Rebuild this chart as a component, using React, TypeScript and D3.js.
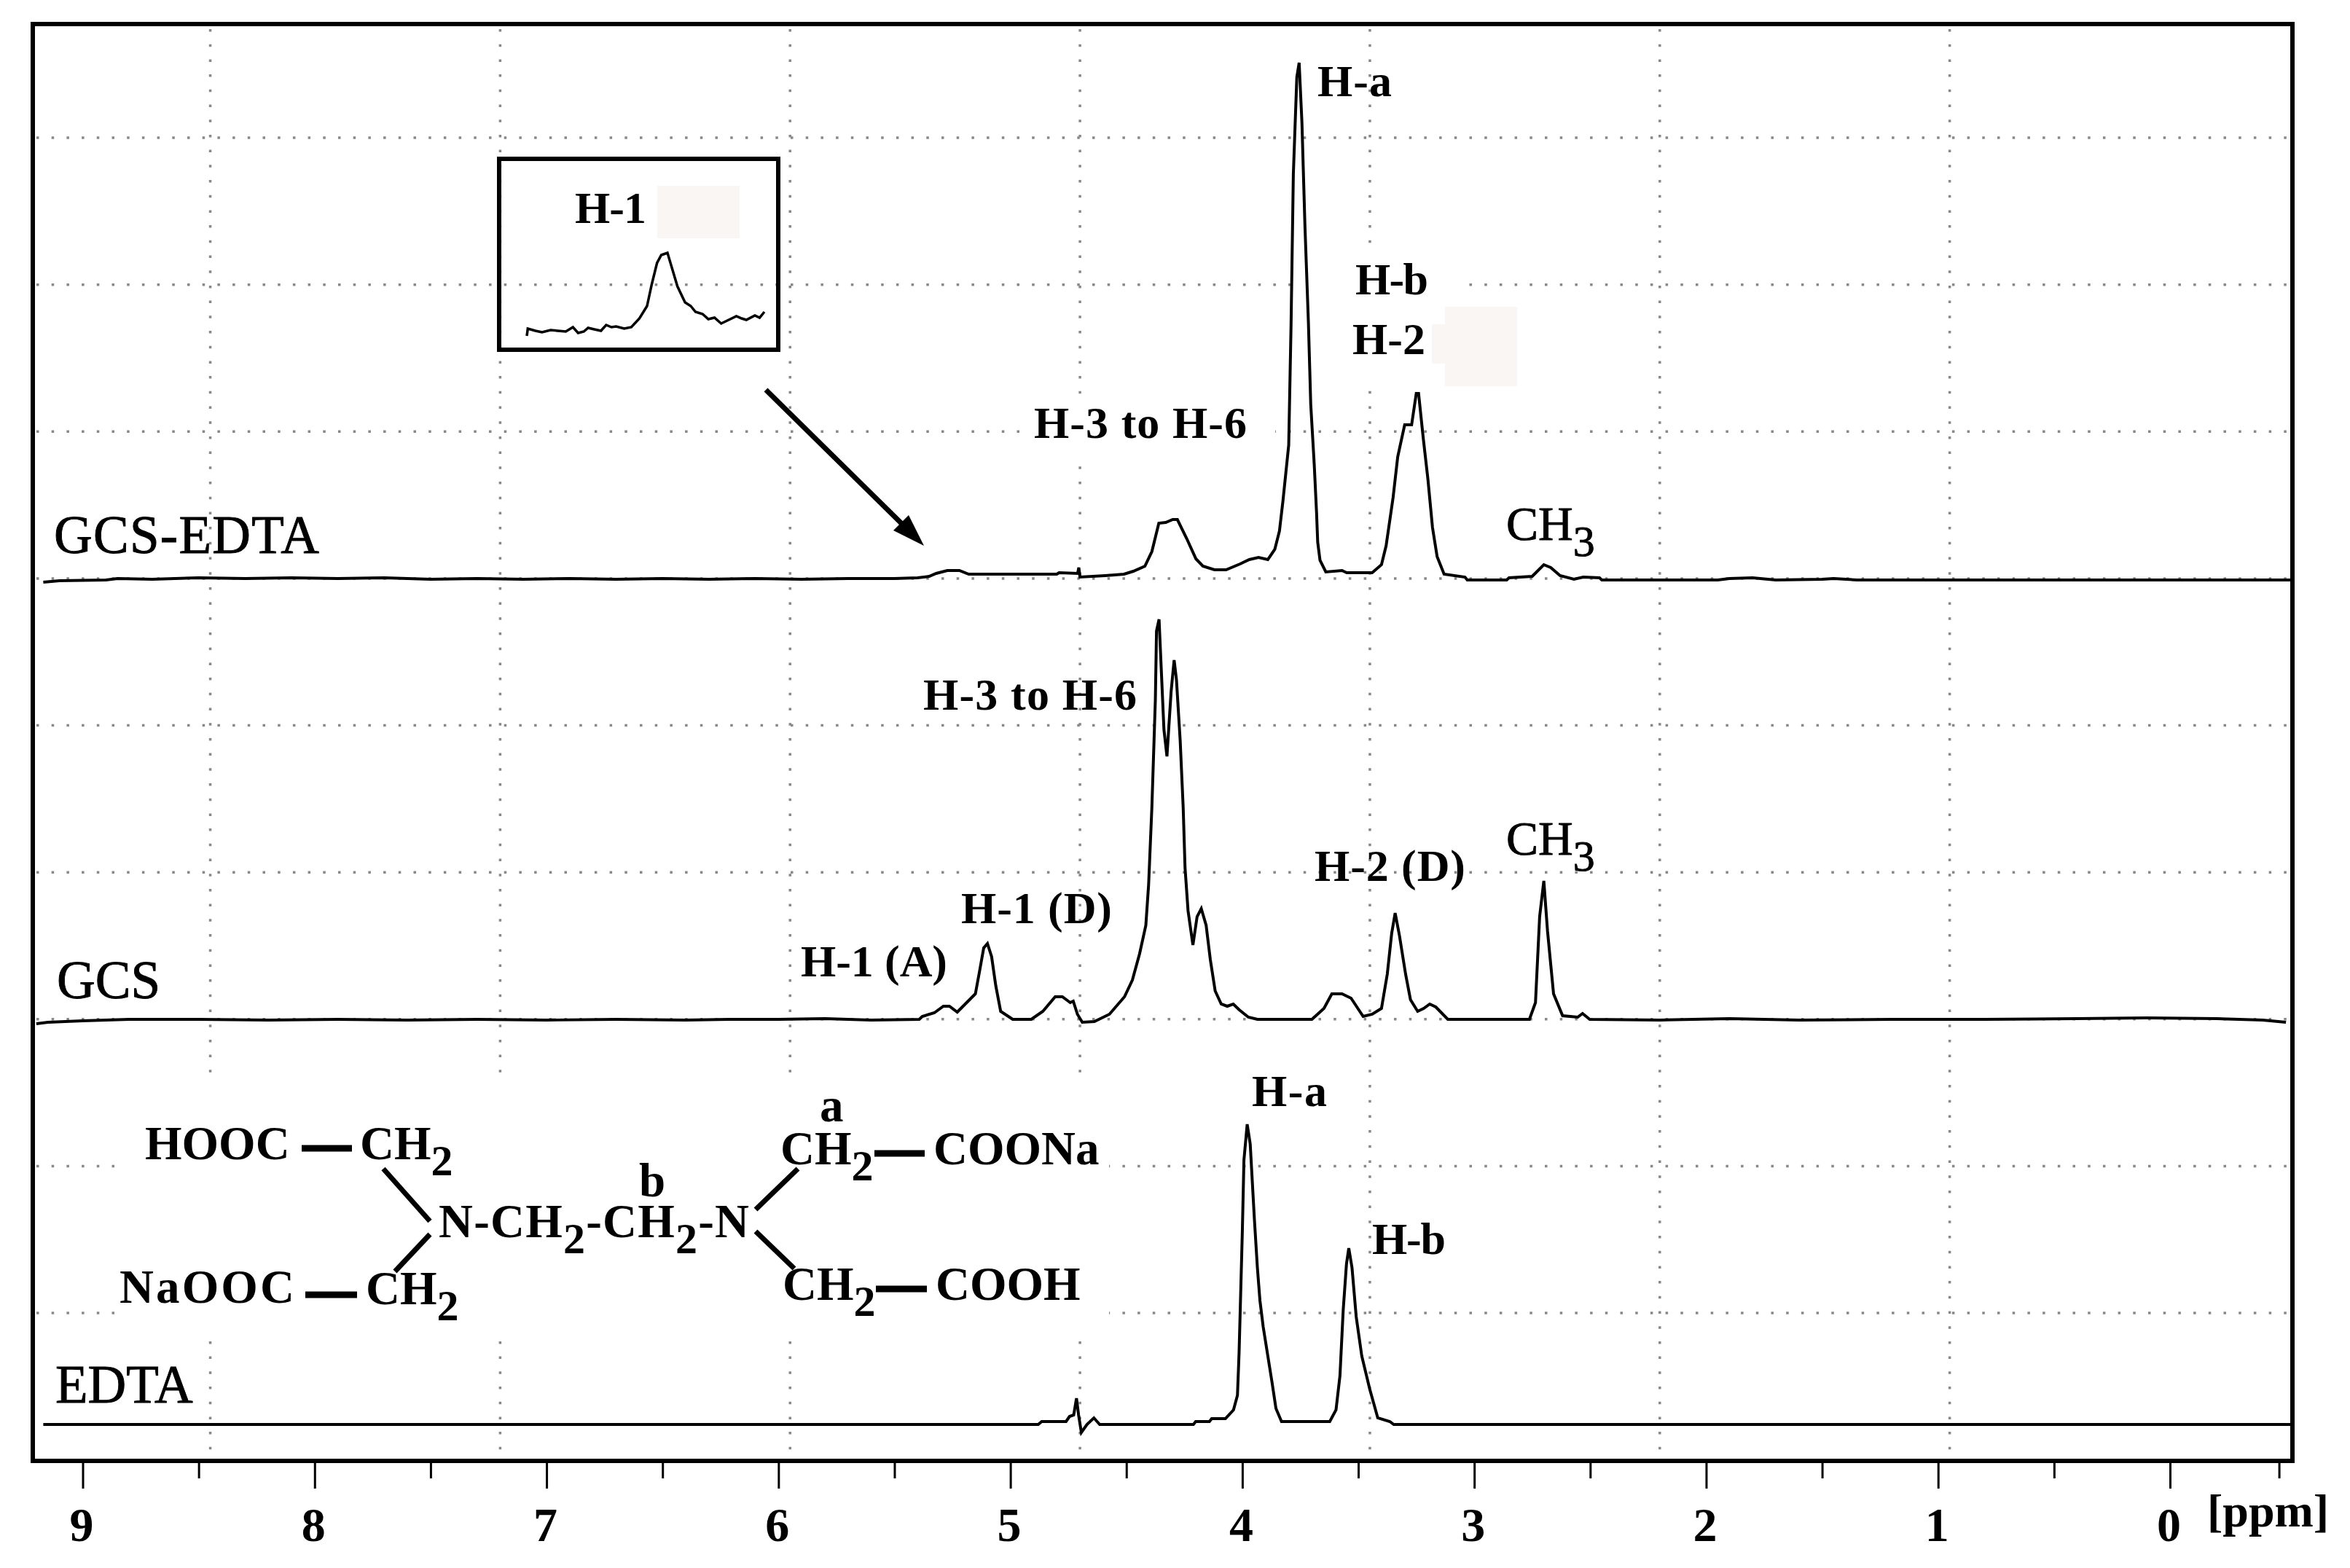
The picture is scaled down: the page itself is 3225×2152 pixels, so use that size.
import React, { useEffect, useRef } from 'react';
import * as d3 from 'd3';

// spectra, [ppm, intensity above the trace's own baseline]
const gcsEdtaTrace: [number, number][] = [
  [9.17, -3], [9.1, -1], [8.9, 0], [8.85, 2], [8.7, 1], [8.5, 3], [8.3, 2], [8.1, 3], [7.9, 2], [7.7, 3], [7.5, 1], [7.3, 2], [7.1, 1],
  [6.9, 2], [6.7, 1], [6.5, 2], [6.3, 1], [6.1, 2], [5.9, 1], [5.7, 2], [5.5, 2], [5.4, 3], [5.35, 5], [5.32, 9],
  [5.272, 13], [5.22, 13], [5.18, 8], [4.8, 8], [4.79, 10], [4.71, 9], [4.705, 17], [4.7, 4], [4.59, 6], [4.51, 8], [4.47, 12],
  [4.42, 19], [4.39, 39], [4.36, 78], [4.33, 79], [4.3, 83], [4.28, 83], [4.24, 57], [4.2, 29], [4.17, 19], [4.12, 14], [4.07, 14],
  [4.01, 22], [3.97, 28], [3.93, 31], [3.89, 28], [3.86, 42], [3.84, 67], [3.825, 108], [3.8, 185], [3.79, 348], [3.78, 557],
  [3.765, 690], [3.755, 710], [3.743, 628], [3.73, 486], [3.715, 353], [3.705, 241], [3.69, 159], [3.68, 93], [3.675, 52],
  [3.665, 27], [3.64, 11], [3.57, 13], [3.55, 10], [3.44, 10], [3.4, 21], [3.38, 47], [3.35, 113], [3.33, 169], [3.3, 213],
  [3.27, 213], [3.25, 256], [3.24, 256], [3.22, 195], [3.2, 139], [3.18, 72], [3.16, 32], [3.13, 8], [3.04, 4], [3.03, 0],
  [2.86, 0], [2.85, 3], [2.75, 5], [2.7, 21], [2.67, 17], [2.63, 6], [2.57, 1], [2.53, 4], [2.46, 3], [2.45, 0], [1.95, 0],
  [1.9, 2], [1.8, 3], [1.7, 0], [1.5, 1], [1.45, 2], [1.35, 0], [-0.53, 0],
];

const gcsTrace: [number, number][] = [
  [9.2, -5], [9.15, -3], [9.0, -1], [8.8, 1], [8.5, 1], [8.2, 0], [7.9, 1], [7.6, 0], [7.3, 1], [7.0, 0], [6.7, 1], [6.4, 0],
  [6.214, 1], [6.0, 1], [5.8, 2], [5.6, 0], [5.393, 1], [5.38, 5], [5.328, 10], [5.289, 19], [5.263, 19], [5.229, 11], [5.151, 36],
  [5.133, 67], [5.115, 99], [5.099, 105], [5.081, 87], [5.063, 47], [5.042, 12], [4.99, 1], [4.91, 1], [4.86, 12], [4.807, 32],
  [4.776, 32], [4.742, 24], [4.729, 26], [4.711, 8], [4.69, -3], [4.638, -2], [4.573, 8], [4.508, 32], [4.474, 55], [4.443, 91],
  [4.416, 130], [4.404, 186], [4.39, 292], [4.375, 439], [4.37, 534], [4.359, 550], [4.349, 478], [4.338, 399], [4.325, 362],
  [4.307, 451], [4.294, 494], [4.284, 467], [4.268, 384], [4.255, 292], [4.247, 209], [4.234, 150], [4.213, 103], [4.195, 142],
  [4.177, 153], [4.156, 130], [4.138, 83], [4.117, 40], [4.091, 22], [4.065, 19], [4.039, 22], [4.013, 14], [3.974, 4], [3.935, 1],
  [3.7, 1], [3.648, 16], [3.614, 36], [3.57, 36], [3.531, 30], [3.479, 5], [3.44, 8], [3.4, 16], [3.375, 63], [3.356, 119],
  [3.341, 147], [3.322, 115], [3.296, 63], [3.275, 28], [3.244, 12], [3.218, 16], [3.192, 22], [3.166, 18], [3.114, 1], [2.762, 1],
  [2.736, 24], [2.718, 142], [2.7, 191], [2.684, 122], [2.658, 36], [2.619, 6], [2.554, 4], [2.533, 9], [2.502, 1], [2.2, 0],
  [1.9, 2], [1.6, 0], [1.2, 1], [0.8, 1], [0.4, 2], [0.1, 3], [-0.2, 2], [-0.4, 0], [-0.5, -3],
];

const edtaTrace: [number, number][] = [
  [9.17, 0], [4.88, 0], [4.865, 4], [4.76, 4], [4.745, 11], [4.727, 13], [4.715, 36], [4.706, 13], [4.694, -11], [4.67, 0], [4.64, 9],
  [4.615, 0], [4.211, 0], [4.201, 4], [4.142, 4], [4.132, 8], [4.073, 8], [4.038, 20], [4.021, 40], [4.014, 98], [4.0, 264], [3.993, 363],
  [3.979, 412], [3.966, 385], [3.948, 282], [3.935, 215], [3.924, 170], [3.91, 134], [3.89, 94], [3.872, 58], [3.855, 22], [3.831, 4],
  [3.623, 4], [3.596, 20], [3.579, 67], [3.565, 157], [3.551, 220], [3.541, 242], [3.527, 215], [3.509, 148], [3.485, 94], [3.451, 49],
  [3.416, 9], [3.364, 4], [3.347, 0], [-0.53, 0],
];

// enlarged H-1 signal of GCS-EDTA in the inset
const insetTrace: [number, number][] = [
  [5.5, 0], [5.498, 10], [5.482, 7], [5.468, 5], [5.45, 8], [5.435, 7], [5.418, 6], [5.403, 12], [5.392, 4], [5.38, 6], [5.371, 11], [5.358, 9],
  [5.344, 7], [5.333, 15], [5.322, 12], [5.312, 13], [5.295, 10], [5.28, 12], [5.263, 24], [5.247, 41], [5.237, 71], [5.226, 100], [5.217, 111],
  [5.204, 114], [5.194, 92], [5.183, 68], [5.167, 46], [5.155, 41], [5.145, 33], [5.13, 30], [5.118, 23], [5.105, 25], [5.091, 17], [5.075, 22],
  [5.059, 27], [5.048, 24], [5.038, 22], [5.02, 28], [5.01, 25], [5.0, 33],
];

const majorTicks = [9, 8, 7, 6, 5, 4, 3, 2, 1, 0];
const allTicks = [9, 8.5, 8, 7.5, 7, 6.5, 6, 5.5, 5, 4.5, 4, 3.5, 3, 2.5, 2, 1.5, 1, 0.5, 0, -0.47];
const gridPpm = [8.45, 7.2, 5.95, 4.7, 3.45, 2.2, 0.95];
const gridRows = [1, 2, 3, 4, 5, 6, 7, 8, 9];

const width = 3225;
const height = 2152;
const serif = '"Liberation Serif", serif';

const x = d3.scaleLinear().domain([9, 0]).range([113.5, 2978]);

const Txt = ({ x, y, s = 62, w = 700, len, children }: any) => (
  <text
    x={x}
    y={y}
    fontFamily={serif}
    fontSize={s}
    fontWeight={w}
    textLength={len}
    lengthAdjust="spacing"
    fill="#000"
    stroke={w === 400 ? '#000' : 'none'}
    strokeWidth={0.9}
  >
    {children}
  </text>
);

// subscript digit, the text after it has to come back up by the same 22
const Sub = ({ children }: any) => <tspan dy={22} fontSize={60}>{children}</tspan>;

const App = () => {
  const axisRef = useRef<SVGGElement>(null);

  useEffect(() => {
    const g = d3.select(axisRef.current);
    g.selectAll('*').remove();
    const axis = d3.axisBottom(x)
      .tickValues(allTicks)
      .tickSizeOuter(0)
      .tickSize(24)
      .tickPadding(39)
      .tickFormat((d: any) => String(d));
    g.call(axis as any);
    g.select('.domain').remove();
    g.selectAll('.tick line')
      .attr('stroke', '#000')
      .attr('stroke-width', 3)
      .attr('y2', (d: any) => (majorTicks.includes(d) ? 38 : 24));
    g.selectAll('.tick text')
      .filter((d: any) => !majorTicks.includes(d))
      .remove();
    g.selectAll('.tick text')
      .attr('font-family', serif)
      .attr('font-size', 66)
      .attr('font-weight', 700)
      .attr('fill', '#000')
      .attr('dx', -2);
  }, []);

  const yRow = d3.scaleLinear().domain([1, 9]).range([189, 1802]);
  const traceLine = (base: number) => {
    const y = d3.scaleLinear().domain([0, 800]).range([base, base - 800]);
    return d3.line<[number, number]>().x(d => x(d[0])).y(d => y(d[1]));
  };

  const insetX = d3.scaleLinear().domain([5.5, 5.0]).range([723, 1049]);
  const insetY = d3.scaleLinear().domain([0, 120]).range([461, 341]);
  const insetLine = d3.line<[number, number]>().x(d => insetX(d[0])).y(d => insetY(d[1]));

  return (
    <svg width={width} height={height} style={{ position: 'absolute', left: 0, top: 0, display: 'block', background: '#fff' }}>
      {/* dotted grid */}
      <g stroke="#888" strokeWidth={3.5} strokeDasharray="3.5 17.2">
        {gridRows.map(r => <line key={r} x1={50} x2={3142} y1={yRow(r)} y2={yRow(r)} />)}
        {gridPpm.map(p => <line key={p} x1={x(p)} x2={x(p)} y1={40} y2={2000} />)}
      </g>

      {/* white patches over the grid, as in the pasted figure */}
      <g fill="#fff">
        <rect x={160} y={1480} width={1362} height={345} />
        <rect x={1402} y={555} width={348} height={70} />
        <rect x={1775} y={350} width={225} height={175} />
      </g>
      <g fill="#faf6f3">
        <rect x={902} y={255} width={113} height={72} />
        <rect x={1983} y={421} width={99} height={109} />
        <rect x={1965} y={445} width={18} height={54} />
      </g>

      <path d={traceLine(796)(gcsEdtaTrace) as string} fill="none" stroke="#000" strokeWidth={4} />
      <path d={traceLine(1400)(gcsTrace) as string} fill="none" stroke="#000" strokeWidth={4} />
      <path d={traceLine(1955)(edtaTrace) as string} fill="none" stroke="#000" strokeWidth={4} />

      {/* frame */}
      <rect x={45} y={33} width={3101} height={1972} fill="none" stroke="#000" strokeWidth={6} />
      <g ref={axisRef} transform="translate(0,2005)" />
      <Txt x={3029} y={2095} s={64}>[ppm]</Txt>

      {/* inset */}
      <rect x={685} y={218} width={383} height={262} fill="none" stroke="#000" strokeWidth={6} />
      <path d={insetLine(insetTrace) as string} fill="none" stroke="#000" strokeWidth={3.5} />
      <Txt x={789} y={306} len={98}>H-1</Txt>

      {/* arrow */}
      <line x1={1051} y1={535} x2={1250} y2={731} stroke="#000" strokeWidth={7} />
      <path d="M1268,749 L1226,728 L1247,707 Z" fill="#000" />

      {/* trace names */}
      <Txt x={74} y={759} s={73} w={400} len={364}>GCS-EDTA</Txt>
      <Txt x={78} y={1370} s={73} w={400}>GCS</Txt>
      <Txt x={76} y={1925} s={73} w={400}>EDTA</Txt>

      {/* peak labels */}
      <Txt x={1808} y={132} len={102}>H-a</Txt>
      <Txt x={1860} y={404} len={100}>H-b</Txt>
      <Txt x={1856} y={486} len={100}>H-2</Txt>
      <Txt x={1419} y={601} len={292}>H-3 to H-6</Txt>
      <Txt x={2067} y={741} s={66} w={400}>CH<Sub>3</Sub></Txt>
      <Txt x={1267} y={974} len={293}>H-3 to H-6</Txt>
      <Txt x={1099} y={1340} len={201}>H-1 (A)</Txt>
      <Txt x={1319} y={1267} len={207}>H-1 (D)</Txt>
      <Txt x={1804} y={1209} len={207}>H-2 (D)</Txt>
      <Txt x={2067} y={1173} s={66} w={400}>CH<Sub>3</Sub></Txt>
      <Txt x={1718} y={1518} len={103}>H-a</Txt>
      <Txt x={1883} y={1721} len={101}>H-b</Txt>

      {/* EDTA structure */}
      <g stroke="#000" fill="none">
        <g strokeWidth={9}>
          <line x1={414} x2={483} y1={1576} y2={1576} />
          <line x1={419} x2={490} y1={1777} y2={1777} />
          <line x1={1200} x2={1269} y1={1583} y2={1583} />
          <line x1={1202} x2={1272} y1={1769} y2={1769} />
        </g>
        <g strokeWidth={7}>
          <line x1={526} y1={1604} x2={590} y2={1676} />
          <line x1={590} y1={1694} x2={542} y2={1745} />
          <line x1={1037} y1={1660} x2={1095} y2={1604} />
          <line x1={1037} y1={1690} x2={1090} y2={1741} />
        </g>
      </g>
      <Txt x={199} y={1591} s={65}>HOOC</Txt>
      <Txt x={494} y={1591} s={65}>CH<Sub>2</Sub></Txt>
      <Txt x={164} y={1788} s={65} len={240}>NaOOC</Txt>
      <Txt x={502} y={1790} s={65}>CH<Sub>2</Sub></Txt>
      <Txt x={602} y={1698} s={65} len={426}>N-CH<Sub>2</Sub><tspan dy={-22}>-CH</tspan><Sub>2</Sub><tspan dy={-22}>-N</tspan></Txt>
      <Txt x={1125} y={1539} s={65}>a</Txt>
      <Txt x={877} y={1642} s={65}>b</Txt>
      <Txt x={1071} y={1598} s={65}>CH<Sub>2</Sub></Txt>
      <Txt x={1281} y={1598} s={65}>COONa</Txt>
      <Txt x={1074} y={1784} s={65}>CH<Sub>2</Sub></Txt>
      <Txt x={1284} y={1784} s={65}>COOH</Txt>
    </svg>
  );
};

export default App;
